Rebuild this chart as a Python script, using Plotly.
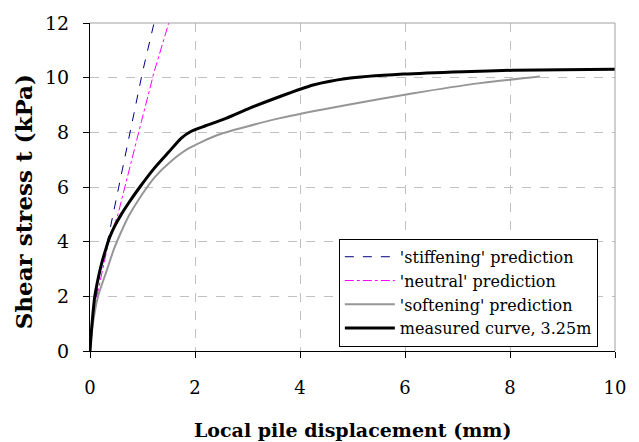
import plotly.graph_objects as go

# measured curve, 3.25m
meas_x = [0, 0.03, 0.09, 0.16, 0.22, 0.3, 0.375, 0.47, 0.59, 0.72, 0.95, 1.23, 1.5, 1.74, 1.93, 2.2, 2.6, 3.0, 3.62, 4.25, 4.89, 5.97, 7.11, 8.06, 9.0, 10.0]
meas_y = [0, 0.8, 1.98, 2.7, 3.19, 3.72, 4.16, 4.57, 4.98, 5.37, 6.0, 6.70, 7.28, 7.79, 8.04, 8.24, 8.52, 8.85, 9.31, 9.73, 9.97, 10.13, 10.22, 10.27, 10.29, 10.31]

# 'softening' prediction
soft_x = [0, 0.04, 0.15, 0.32, 0.45, 0.58, 0.74, 0.91, 1.23, 1.55, 1.87, 2.44, 3.62, 4.89, 6.16, 7.43, 8.57]
soft_y = [0, 0.8, 1.98, 2.95, 3.7, 4.3, 4.95, 5.49, 6.35, 6.95, 7.4, 7.91, 8.52, 9.0, 9.43, 9.8, 10.04]

# 'neutral' prediction
neut_x = [0, 0.05, 0.12, 0.22, 0.35, 0.533, 0.75, 0.98, 1.22, 1.5]
neut_y = [0, 1.0, 1.9, 2.82, 3.95, 5.0, 6.6, 8.4, 10.2, 12.0]

# 'stiffening' prediction
stif_x = [0, 0.05, 0.12, 0.2, 0.343, 0.55, 0.79, 1.0, 1.22]
stif_y = [0, 1.0, 2.0, 3.0, 4.1, 6.0, 8.28, 10.2, 12.0]

names = ["'stiffening' prediction", "'neutral' prediction", "'softening' prediction", "measured curve, 3.25m"]
x_title = "Local pile displacement (mm)"
y_title = "Shear stress t (kPa)"

fig = go.Figure()
fig.add_trace(go.Scatter(x=stif_x, y=stif_y, mode="lines", name=names[0],
                         line=dict(color="#000080", width=1, dash="dash")))
fig.add_trace(go.Scatter(x=neut_x, y=neut_y, mode="lines", name=names[1],
                         line=dict(color="#FF00FF", width=1, dash="dashdot")))
fig.add_trace(go.Scatter(x=soft_x, y=soft_y, mode="lines", name=names[2],
                         line=dict(color="#969696", width=2, shape="spline", smoothing=0.6)))
fig.add_trace(go.Scatter(x=meas_x, y=meas_y, mode="lines", name=names[3],
                         line=dict(color="#000000", width=3, shape="spline", smoothing=0.6)))

font_family = "DejaVu Serif"

fig.update_layout(
    width=639, height=442,
    margin=dict(l=90, r=24, t=20, b=91),
    paper_bgcolor="white", plot_bgcolor="white",
    font=dict(family=font_family, color="black", size=18),
    legend=dict(x=0.474, y=0.342, xanchor="left", yanchor="top",
                bgcolor="white", bordercolor="black", borderwidth=1,
                font=dict(family=font_family, size=16, color="black"),
                tracegroupgap=0, itemwidth=50),
    showlegend=True,
)
fig.update_xaxes(
    range=[0, 10], tickvals=[0, 2, 4, 6, 8, 10], ticks="outside", ticklen=6,
    tickcolor="black", showline=True, linecolor="black", linewidth=1,
    showgrid=True, gridcolor="#C0C0C0", griddash="dash", gridwidth=1,
    zeroline=False, ticklabelstandoff=14,
    tickfont=dict(family=font_family, size=18),
)
fig.update_yaxes(
    range=[0, 12], tickvals=[0, 2, 4, 6, 8, 10, 12], ticks="outside", ticklen=6,
    tickcolor="black", showline=True, linecolor="black", linewidth=1,
    showgrid=True, gridcolor="#C0C0C0", griddash="dash", gridwidth=1,
    zeroline=False, ticklabelstandoff=10,
    tickfont=dict(family=font_family, size=19),
)
fig.add_annotation(text="<b>" + x_title + "</b>", xref="paper", yref="paper",
                   x=0.5, y=-0.24, xanchor="center", yanchor="middle", showarrow=False,
                   font=dict(family=font_family, size=19, color="black"))
fig.add_annotation(text="<b>" + y_title + "</b>", xref="paper", yref="paper",
                   x=-0.126, y=0.456, xanchor="center", yanchor="middle", showarrow=False,
                   textangle=-90, font=dict(family=font_family, size=23, color="black"))
# right and top border lines (gray)
fig.add_shape(type="line", xref="paper", yref="paper", x0=1, x1=1, y0=0, y1=1,
              line=dict(color="#A0A0A0", width=1))
fig.add_shape(type="line", xref="paper", yref="paper", x0=0, x1=1, y0=1, y1=1,
              line=dict(color="#A0A0A0", width=1))

fig.write_html("out.html")
